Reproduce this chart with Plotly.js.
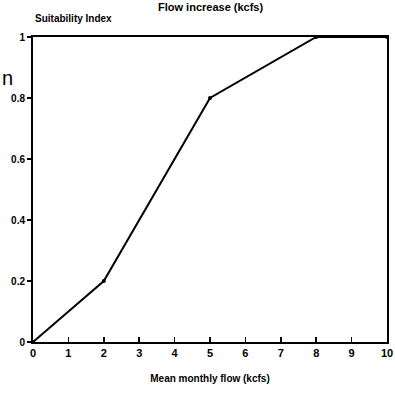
<!DOCTYPE html>
<html>
<head>
<meta charset="utf-8">
<script src="https://cdn.plot.ly/plotly-3.0.1.min.js"></script>
<style>html,body{margin:0;padding:0;background:#fff;}#chart{width:395px;height:394px;}</style>
</head>
<body>
<div id="chart"></div>
<script>
const flow = [0, 2, 5, 8, 10];
const suitability = [0, 0.2, 0.8, 1, 1];
const xTicks = [0, 1, 2, 3, 4, 5, 6, 7, 8, 9, 10];
const yTicks = [0, 0.2, 0.4, 0.6, 0.8, 1];
const yTickLabels = ['0', '0.2', '0.4', '0.6', '0.8', '1'];

const font = {family: 'Liberation Sans, Arial, sans-serif', color: '#000', weight: 'bold'};

Plotly.newPlot('chart', [{
  x: flow, y: suitability, type: 'scatter', mode: 'lines+markers',
  line: {color: '#000', width: 2},
  marker: {color: '#000', size: 4},
  cliponaxis: false, hoverinfo: 'skip'
}], {
  width: 395, height: 394,
  margin: {l: 33, r: 8, t: 37, b: 52},
  paper_bgcolor: '#fff', plot_bgcolor: '#fff',
  showlegend: false,
  xaxis: {
    range: [0, 10], tickvals: xTicks, ticktext: xTicks.map(String),
    ticks: 'inside', ticklen: 5, tickwidth: 1.5, tickcolor: '#000',
    showline: true, linecolor: '#000', linewidth: 2, mirror: true,
    showgrid: false, zeroline: false,
    tickfont: Object.assign({size: 11}, font),
    title: {text: 'Mean monthly flow (kcfs)', font: Object.assign({size: 10}, font), standoff: 17}
  },
  yaxis: {
    range: [0, 1], tickvals: yTicks, ticktext: yTickLabels,
    ticks: 'outside', ticklen: 4, tickwidth: 1.5, tickcolor: '#000',
    showline: true, linecolor: '#000', linewidth: 2, mirror: true,
    showgrid: false, zeroline: false,
    tickfont: Object.assign({size: 10}, font)
  },
  annotations: [
    {text: 'Flow increase (kcfs)', xref: 'paper', yref: 'paper', x: 0.5, y: 1.098, xanchor: 'center', yanchor: 'middle', showarrow: false, font: Object.assign({size: 11}, font)},
    {text: 'Suitability Index', xref: 'paper', yref: 'paper', x: 0, y: 1.062, xanchor: 'left', yanchor: 'middle', showarrow: false, font: Object.assign({size: 10}, font)},
    {text: 'n', xref: 'paper', yref: 'paper', x: -0.072, y: 0.865, xanchor: 'center', yanchor: 'middle', showarrow: false, font: {family: 'Liberation Sans, Arial, sans-serif', size: 20, color: '#000'}}
  ]
}, {displayModeBar: false, staticPlot: true});
</script>
</body>
</html>
